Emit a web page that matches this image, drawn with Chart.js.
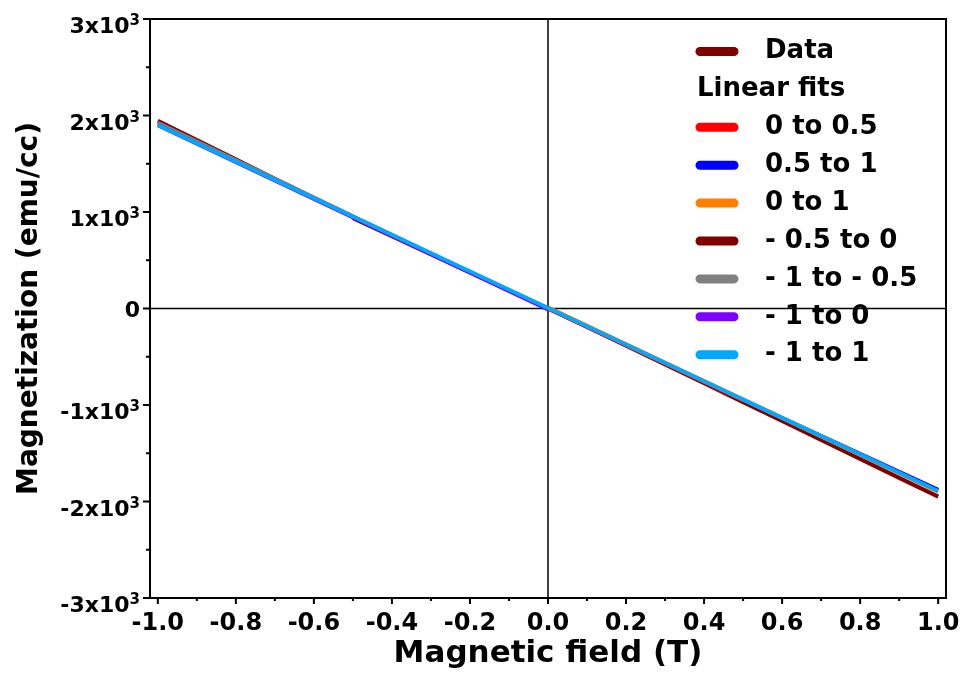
<!DOCTYPE html>
<html>
<head>
<meta charset="utf-8">
<script src="https://cdn.jsdelivr.net/npm/chart.js@4.4.1/dist/chart.umd.min.js"></script>
<style>
  html, body { margin: 0; padding: 0; background: #fff; }
</style>
</head>
<body>
<canvas id="myChart" width="963" height="676"></canvas>
<script>
// Data (measured M vs H)
const field = [-1.0, -0.9, -0.8, -0.7, -0.6, -0.5, -0.4, -0.3, -0.2, -0.1, 0,
               0.1, 0.2, 0.3, 0.4, 0.5, 0.6, 0.7, 0.8, 0.9, 1.0]
const magnetization = [1946, 1745, 1545, 1345, 1148, 952, 760, 568, 378, 189, 0,
                       -192, -386, -580, -775, -970, -1165, -1362, -1558, -1755, -1950]

// Linear fits, one line per range
const fitLabels = ['0 to 0.5', '0.5 to 1', '0 to 1', '- 0.5 to 0', '- 1 to - 0.5', '- 1 to 0', '- 1 to 1']
const fitColors = ['#ff0000', '#0000ff', '#ff8000', '#800000', '#808080', '#8000ff', '#00a8ff']
const fitStartX = [0, 0.5, 0, -0.5, -1, -1, -1]
const fitEndX = [0.5, 1, 1, 0, -0.5, 0, 1]
const fitStartY = [0, -948, 12, 935, 1925, 1900, 1901]
const fitEndY = [-950, -1880, -1898, 0, 955, -10, -1891]
const fitOrder = [6, 5, 4, 3, 2, 1, 0]

// Axis ticks
const xTicks = [-1.0, -0.8, -0.6, -0.4, -0.2, 0, 0.2, 0.4, 0.6, 0.8, 1.0]
const xTickLabels = ['-1.0', '-0.8', '-0.6', '-0.4', '-0.2', '0.0', '0.2', '0.4', '0.6', '0.8', '1.0']
const xMinor = [-0.9, -0.7, -0.5, -0.3, -0.1, 0.1, 0.3, 0.5, 0.7, 0.9]
const yTicks = [-3000, -2000, -1000, 0, 1000, 2000, 3000]
const yTickLabels = ['-3x10', '-2x10', '-1x10', '0', '1x10', '2x10', '3x10']
const yTickExp = ['3', '3', '3', '', '3', '3', '3']
const yMinor = [-2500, -1500, -500, 500, 1500, 2500]

const FONT = 'DejaVu Sans'

const datasets = [{
  label: 'Data',
  data: field.map((x, i) => ({ x: x, y: magnetization[i] })),
  borderColor: '#800000',
  borderWidth: 4,
  pointRadius: 0,
  order: 10
}]
fitLabels.forEach((lab, i) => {
  datasets.push({
    label: lab,
    data: [{ x: fitStartX[i], y: fitStartY[i] }, { x: fitEndX[i], y: fitEndY[i] }],
    borderColor: fitColors[i],
    borderWidth: 4,
    pointRadius: 0,
    order: fitOrder[i]
  })
})

// frame, zero lines, tick marks and y labels with superscripts
const axesPlugin = {
  id: 'axesPlugin',
  beforeDatasetsDraw(chart) {
    const ctx = chart.ctx
    const a = chart.chartArea
    const xs = chart.scales.x, ys = chart.scales.y
    ctx.save()
    ctx.strokeStyle = '#000'
    ctx.lineWidth = 1.5
    const x0 = xs.getPixelForValue(0), y0 = ys.getPixelForValue(0)
    ctx.beginPath()
    ctx.moveTo(x0, a.top); ctx.lineTo(x0, a.bottom)
    ctx.moveTo(a.left, y0); ctx.lineTo(a.right, y0)
    ctx.stroke()
    ctx.restore()
  },
  afterDatasetsDraw(chart) {
    const ctx = chart.ctx
    const a = chart.chartArea
    const xs = chart.scales.x, ys = chart.scales.y
    ctx.save()
    ctx.strokeStyle = '#000'
    ctx.lineWidth = 2
    ctx.strokeRect(a.left, a.top, a.right - a.left, a.bottom - a.top)
    ctx.beginPath()
    xTicks.forEach(v => { const p = xs.getPixelForValue(v); ctx.moveTo(p, a.bottom); ctx.lineTo(p, a.bottom + 6) })
    xMinor.forEach(v => { const p = xs.getPixelForValue(v); ctx.moveTo(p, a.bottom); ctx.lineTo(p, a.bottom + 3) })
    yTicks.forEach(v => { const p = ys.getPixelForValue(v); ctx.moveTo(a.left, p); ctx.lineTo(a.left - 7, p) })
    yMinor.forEach(v => { const p = ys.getPixelForValue(v); ctx.moveTo(a.left, p); ctx.lineTo(a.left - 4, p) })
    ctx.stroke()

    ctx.fillStyle = '#000'
    ctx.textAlign = 'right'
    ctx.textBaseline = 'alphabetic'
    const xr = a.left - 10
    yTicks.forEach((v, i) => {
      const p = ys.getPixelForValue(v)
      if (yTickExp[i]) {
        ctx.font = 'bold 15px "' + FONT + '"'
        const w = ctx.measureText(yTickExp[i]).width
        ctx.fillText(yTickExp[i], xr, p + 6)
        ctx.font = 'bold 22px "' + FONT + '"'
        ctx.fillText(yTickLabels[i], xr - w, p + 14)
      } else {
        ctx.font = 'bold 22px "' + FONT + '"'
        ctx.fillText(yTickLabels[i], xr, p + 8)
      }
    })
    ctx.restore()
  }
}

// legend like the original (header row for the fits)
const legendPlugin = {
  id: 'refLegend',
  afterDraw(chart) {
    const ctx = chart.ctx
    const ds = chart.data.datasets
    const rows = [{ text: ds[0].label, color: ds[0].borderColor }, { text: 'Linear fits', color: null }]
    for (let i = 1; i < ds.length; i++) rows.push({ text: ds[i].label, color: ds[i].borderColor })
    ctx.save()
    ctx.font = 'bold 26px "' + FONT + '"'
    ctx.textBaseline = 'middle'
    ctx.fillStyle = '#000'
    ctx.lineCap = 'round'
    ctx.lineWidth = 9
    rows.forEach((r, i) => {
      const y = 51.5 + i * 37.9
      if (r.color) {
        ctx.strokeStyle = r.color
        ctx.beginPath(); ctx.moveTo(700, y); ctx.lineTo(734, y); ctx.stroke()
        ctx.fillText(r.text, 765, y)
      } else {
        ctx.fillText(r.text, 697, y)
      }
    })
    ctx.restore()
  }
}

new Chart(document.getElementById('myChart'), {
  type: 'line',
  data: { datasets: datasets },
  plugins: [axesPlugin, legendPlugin],
  options: {
    responsive: false,
    animation: false,
    devicePixelRatio: 1,
    layout: { padding: { top: 19, right: 17, bottom: 0, left: 0 } },
    plugins: { legend: { display: false }, tooltip: { enabled: false } },
    elements: { line: { tension: 0, borderCapStyle: 'butt' } },
    scales: {
      x: {
        type: 'linear',
        min: -1.02,
        max: 1.02,
        afterBuildTicks: s => { s.ticks = xTicks.map(v => ({ value: v })) },
        afterFit: s => { s.height = 78; s.paddingLeft = 0; s.paddingRight = 0 },
        grid: { display: false },
        border: { display: false },
        ticks: {
          autoSkip: false, maxRotation: 0, padding: 3, color: '#000',
          font: { family: FONT, size: 24, weight: 'bold' },
          callback: v => xTickLabels[xTicks.indexOf(v)]
        },
        title: {
          display: true, text: 'Magnetic field (T)', color: '#000',
          font: { family: FONT, size: 31, weight: 'bold' },
          padding: { top: 0, bottom: 3 }
        }
      },
      y: {
        type: 'linear',
        min: -3000,
        max: 3000,
        afterBuildTicks: s => { s.ticks = yTicks.map(v => ({ value: v })) },
        afterFit: s => { s.width = 150; s.paddingTop = 0; s.paddingBottom = 0 },
        grid: { display: false },
        border: { display: false },
        ticks: { display: false },
        title: {
          display: true, text: 'Magnetization (emu/cc)', color: '#000',
          font: { family: FONT, size: 28, weight: 'bold' },
          padding: { top: 13, bottom: 0 }
        }
      }
    }
  }
})
</script>
</body>
</html>
